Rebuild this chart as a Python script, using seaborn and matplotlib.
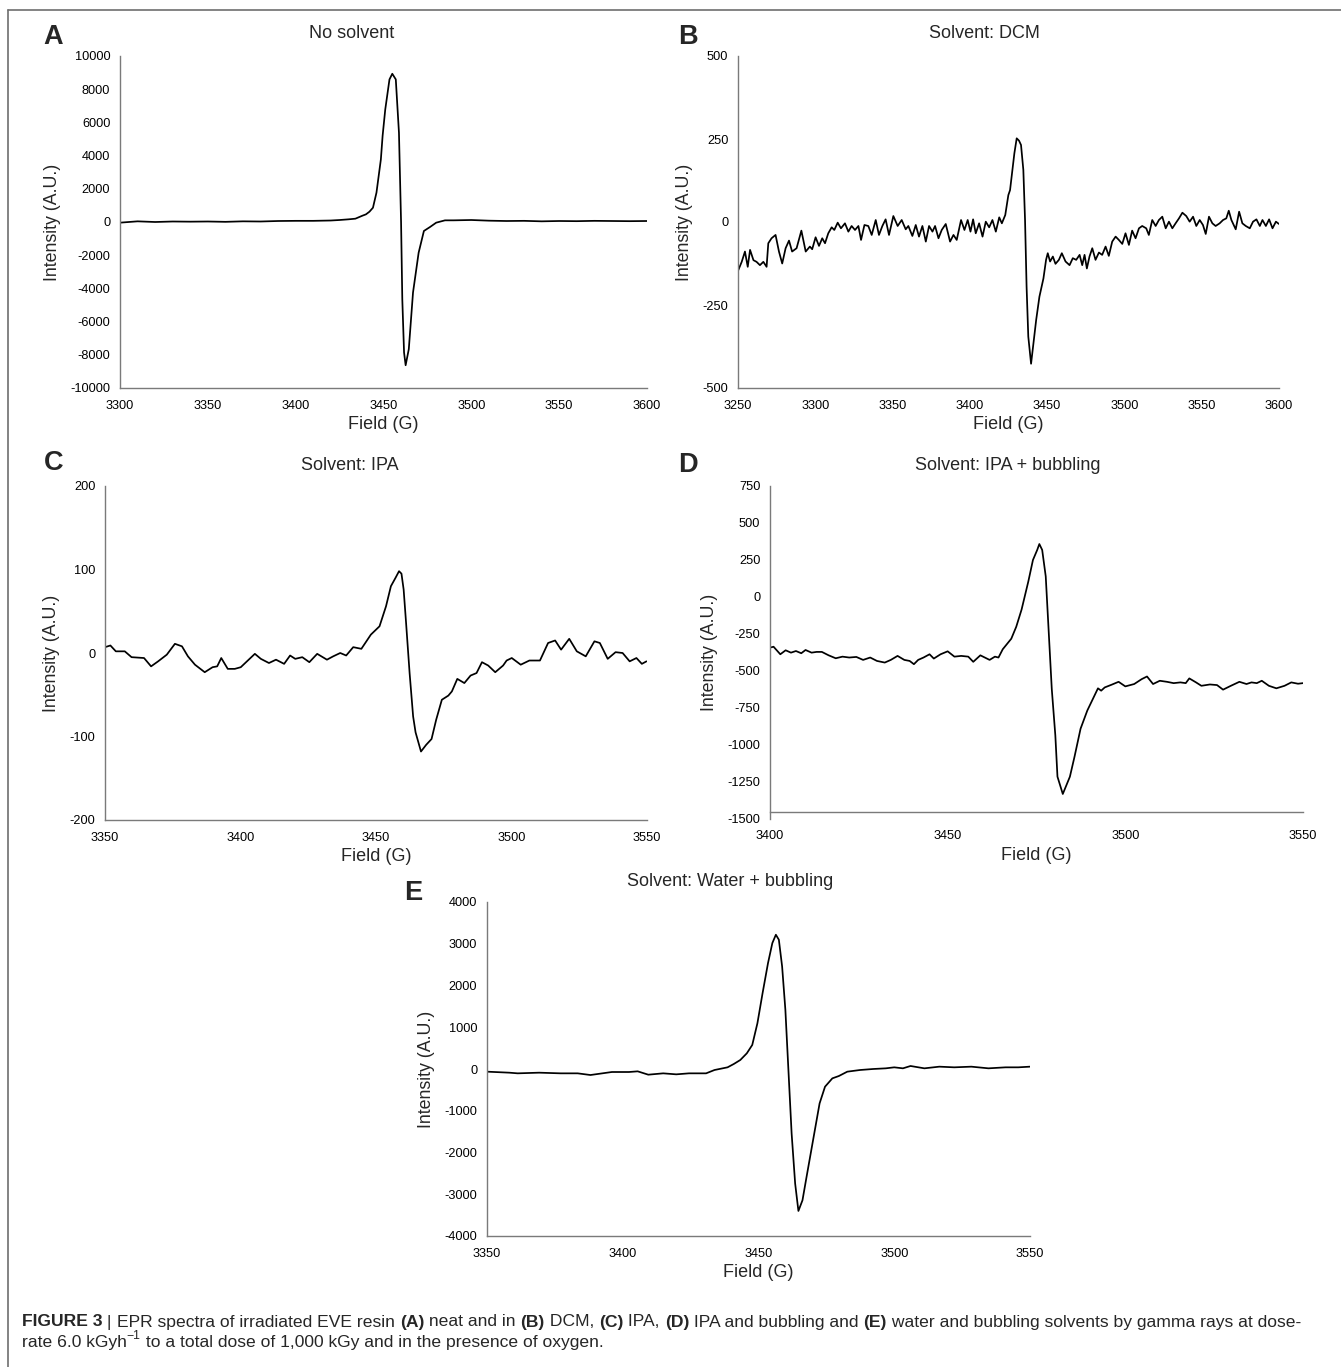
import numpy as np
import pandas as pd
import matplotlib
matplotlib.use("Agg")
import matplotlib.pyplot as plt
from matplotlib.lines import Line2D
import seaborn as sns

# ---- data ----
# A: no solvent
a_field = [3300, 3310, 3320, 3330, 3340, 3350, 3360, 3370, 3380, 3390, 3400, 3410, 3420, 3425,
           3430, 3434, 3438, 3440, 3442, 3444, 3446, 3448.5, 3449.5, 3451, 3453.4, 3455, 3457,
           3458.8, 3460, 3460.7, 3461.7, 3462.6, 3464.4, 3466.8, 3470, 3473, 3476.5, 3480, 3485,
           3490, 3500, 3510, 3520, 3530, 3540, 3550, 3560, 3570, 3580, 3590, 3600]
a_int = [-40, 40, 0, 30, 20, 30, 10, 40, 30, 60, 70, 70, 90, 120,
         160, 200, 380, 460, 620, 860, 1770, 3770, 5200, 6780, 8590, 8930, 8590,
         5380, 0, -4650, -7860, -8630, -7660, -4250, -1850, -540, -300, -40, 100,
         100, 120, 80, 60, 70, 40, 60, 50, 70, 60, 50, 60]

# B: DCM
b_field = [3250.2, 3252.4, 3254.5, 3256.3, 3257.8, 3260, 3262, 3264.2, 3266.4, 3268.5, 3269.6,
           3271.7, 3274.3, 3276.5, 3278.6, 3280.8, 3283, 3285, 3287.9, 3291, 3293.8, 3296.5,
           3298, 3300.2, 3302.4, 3304.5, 3306.3, 3308.4, 3310.6, 3312.3, 3314.5, 3316.6, 3319.2,
           3321.4, 3323.5, 3325.7, 3327.9, 3329.6, 3331.8, 3334.3, 3336.5, 3339.1, 3341.2, 3343.4,
           3345.5, 3347.7, 3350.5, 3353.3, 3355.9, 3358.5, 3360.2, 3362.8, 3365, 3367.1, 3369.3,
           3371.5, 3373.6, 3375.8, 3377.5, 3379.7, 3381.8, 3384.4, 3387.2, 3389.4, 3391.5, 3394.3,
           3396.5, 3398.6, 3400.4, 3402.1, 3403.8, 3406, 3408.2, 3410.3, 3412.5, 3414.6, 3416.8,
           3419, 3420.7, 3422.9, 3424.9, 3426, 3427.5, 3428.8, 3430.3, 3431.8, 3433.1, 3434.6,
           3435.7, 3436.7, 3437.8, 3439.6, 3442.9, 3445, 3447.6, 3449.3, 3450.4, 3451.9, 3453.7,
           3455.4, 3457.6, 3459.5, 3461.9, 3464.5, 3466.6, 3468.8, 3471, 3472.7, 3474.2, 3475.7,
           3477.4, 3479.2, 3481.3, 3483.5, 3485.6, 3487.8, 3489.9, 3492.1, 3494.3, 3496.4, 3498.6,
           3500.7, 3502.9, 3505, 3507.2, 3509.4, 3511.5, 3514.1, 3515.8, 3518, 3520.2, 3522.3,
           3524.5, 3526.7, 3528.8, 3531, 3533.1, 3535.3, 3537.5, 3540, 3542.2, 3544.4, 3546.5,
           3548.7, 3550.8, 3552.6, 3554.7, 3556.9, 3559, 3561.6, 3563.8, 3565.9, 3567.5, 3569.2,
           3572, 3574.2, 3576.3, 3578.5, 3581.1, 3583.2, 3585.4, 3587.6, 3589.3, 3591.5, 3593.6,
           3595.8, 3598, 3600]
b_int = [-145, -120, -89, -135, -84, -115, -120, -130, -120, -135, -64,
         -49, -39, -89, -125, -79, -56, -89, -79, -26, -89, -74,
         -82, -46, -72, -49, -64, -34, -16, -24, -2, -19, -4,
         -29, -12, -24, -12, -54, -9, -12, -39, 6, -39, -12,
         8, -39, 18, -12, 6, -22, -12, -42, -9, -44, -12,
         -59, -12, -29, -12, -49, -24, -6, -59, -39, -54, 6,
         -24, 6, -29, 8, -34, -4, -44, 1, -16, 6, -29,
         14, -4, 21, 81, 96, 157, 207, 252, 245, 232, 157,
         6, -195, -345, -427, -295, -225, -170, -114, -94, -119, -104,
         -126, -114, -94, -119, -130, -109, -114, -99, -130, -99, -140,
         -104, -79, -114, -92, -99, -74, -102, -59, -44, -54, -66,
         -34, -69, -26, -49, -19, -12, -19, -39, 6, -12, 6,
         16, -19, 1, -19, -4, 11, 28, 18, 1, 16, -12,
         6, -9, -36, 16, -4, -12, -4, 6, 11, 34, 6,
         -22, 31, -4, -12, -19, 1, 8, -12, 6, -12, 8,
         -19, 1, -6]

# C: IPA
c_field = [3350, 3352, 3354, 3357.3, 3359.8, 3364.4, 3367, 3369.6, 3372.8, 3375.8, 3378.4, 3380.6,
           3383.2, 3386.8, 3389.7, 3391.4, 3392.9, 3395.3, 3397.9, 3400.1, 3402.7, 3405.3, 3407.5,
           3410.5, 3413.1, 3416.1, 3418.3, 3420.2, 3422.8, 3425.4, 3428.3, 3431.9, 3434.2, 3436.8,
           3439, 3441.6, 3444.6, 3448.1, 3451.3, 3453.7, 3455.5, 3457.2, 3458.5, 3459.4, 3460.2,
           3461.1, 3462.4, 3463.7, 3464.6, 3466.6, 3468.5, 3470.5, 3472.2, 3474.3, 3476.7, 3478,
           3480, 3482.6, 3484.9, 3487.1, 3489.1, 3491.4, 3494, 3496.9, 3498.2, 3500.1, 3503.4,
           3506.6, 3510.5, 3513.5, 3516.1, 3518.3, 3521.3, 3524.1, 3527.4, 3530.6, 3532.6, 3535.5,
           3538.4, 3541, 3543.6, 3546.1, 3548.1, 3549.8]
c_int = [7, 9, 2, 2, -5, -6, -16, -10, -2, 11, 8, -4,
         -14, -23, -17, -16, -6, -19, -19, -17, -9, -1, -7,
         -12, -8, -13, -3, -7, -5, -11, -1, -8, -4, 0,
         -3, 7, 5, 22, 32, 56, 80, 90, 98, 95, 76,
         36, -24, -76, -95, -118, -110, -103, -80, -56, -51, -46,
         -31, -36, -27, -24, -11, -15, -23, -15, -9, -6, -14,
         -9, -9, 12, 15, 4, 17, 2, -4, 14, 12, -7,
         1, 0, -10, -6, -13, -10]

# D: IPA + bubbling
d_field = [3400, 3401, 3402.9, 3404.4, 3405.9, 3407.3, 3408.8, 3410, 3411.7, 3413.1, 3414.6, 3416.5,
           3418.5, 3420.4, 3422.3, 3424.3, 3426.2, 3428.2, 3430.1, 3432.3, 3434, 3435.9, 3437.8,
           3439.3, 3440.5, 3441.7, 3443.2, 3444.9, 3446.1, 3448, 3450, 3451.9, 3453.8, 3455.8,
           3457.2, 3459.2, 3461.8, 3463.3, 3464.3, 3465.5, 3467.9, 3469.3, 3470.8, 3472.7, 3474,
           3475.2, 3475.8, 3476.6, 3477.6, 3478.3, 3479.3, 3480.3, 3480.9, 3482.4, 3484.4, 3485.7,
           3487.4, 3489.3, 3491.3, 3492.3, 3493.2, 3494.2, 3496.1, 3498.1, 3500, 3502.5, 3504.6,
           3506.1, 3507.8, 3509.7, 3511.7, 3513.6, 3515.5, 3517, 3518, 3519.9, 3521.4, 3523.8,
           3525.8, 3527.5, 3529.7, 3532.1, 3534.1, 3535.5, 3537, 3538.4, 3540.4, 3542.5, 3544.8,
           3546.7, 3548.6, 3550]
d_int = [-342, -336, -387, -360, -376, -365, -380, -358, -376, -371, -371, -394,
         -414, -403, -409, -405, -425, -409, -432, -443, -425, -398, -425,
         -432, -454, -425, -409, -387, -416, -387, -367, -403, -398, -403,
         -438, -394, -425, -403, -409, -353, -282, -201, -85, 105, 250,
         318, 358, 318, 139, -174, -622, -935, -1214, -1331, -1214, -1079,
         -890, -767, -667, -617, -633, -611, -593, -573, -604, -588, -555,
         -537, -588, -566, -573, -582, -577, -582, -550, -577, -600, -591,
         -595, -626, -600, -573, -588, -577, -582, -566, -600, -617, -600,
         -577, -586, -582]

# E: water + bubbling
e_field = [3350, 3358.2, 3361.3, 3369.2, 3377.1, 3383.4, 3388.1, 3396, 3402.3, 3405.5, 3409.4,
           3414.9, 3419.7, 3424.4, 3430.7, 3433.8, 3438.6, 3440.9, 3443.3, 3445.7, 3447.7, 3449.6,
           3451.5, 3453.5, 3455.1, 3456.4, 3457.5, 3458.7, 3459.9, 3461, 3462.2, 3463.5, 3464.7,
           3466.2, 3467.7, 3470.1, 3472.5, 3474.5, 3477.2, 3479.6, 3482.7, 3487.4, 3492.2, 3496.9,
           3500, 3503.2, 3506, 3511.1, 3516.6, 3522.1, 3528.4, 3534.7, 3541, 3545.7, 3550]
e_int = [-64, -88, -104, -88, -104, -104, -144, -72, -72, -56, -136,
         -104, -128, -104, -104, -24, 40, 120, 216, 376, 576, 1096,
         1816, 2536, 3016, 3216, 3096, 2456, 1416, 0, -1544, -2744, -3400,
         -3144, -2584, -1704, -824, -424, -224, -168, -64, -24, 0, 16,
         40, 16, 72, 16, 56, 40, 56, 16, 40, 40, 56]

titles = ["No solvent", "Solvent: DCM", "Solvent: IPA", "Solvent: IPA + bubbling",
          "Solvent: Water + bubbling"]
letters = ["A", "B", "C", "D", "E"]

sns.set_style("white")
plt.rcParams['font.family'] = ['Liberation Sans', 'DejaVu Sans']
plt.rcParams['axes.unicode_minus'] = False

W, H = 1341, 1367
fig = plt.figure(figsize=(W / 100, H / 100), dpi=100)
axis_col = "#7a7a7a"


def px_axes(l, t, r, b):
    return fig.add_axes([l / W, 1 - b / H, (r - l) / W, (b - t) / H])


def draw_panel(box, field, inten, xlim, ylim, xstep, ystep, title, title_xy, letter, letter_xy,
               xaxis_at=None):
    ax = px_axes(*box)
    df = pd.DataFrame({"field": field, "intensity": inten})
    sns.lineplot(data=df, x="field", y="intensity", ax=ax, color="black", lw=1.25,
                 estimator=None, sort=False)
    ax.set_xlim(*xlim)
    ax.set_ylim(*ylim)
    ax.set_xticks(np.arange(xlim[0], xlim[1] + 1, xstep))
    ax.set_yticks(np.arange(ylim[0], ylim[1] + 1, ystep))
    for s in ["top", "right"]:
        ax.spines[s].set_visible(False)
    for s in ["left", "bottom"]:
        ax.spines[s].set_color(axis_col)
        ax.spines[s].set_linewidth(1.0)
    xpad = 6.5
    if xaxis_at is not None:
        ax.spines["bottom"].set_position(("data", xaxis_at))
        xpad = 11.5
    ax.tick_params(axis="both", direction="inout", length=4, width=0.8, color=axis_col,
                   labelsize=9.2, labelcolor="black")
    ax.tick_params(axis="x", pad=xpad)
    ax.tick_params(axis="y", pad=5)
    ax.set_xlabel("Field (G)", fontsize=13, labelpad=3)
    ax.set_ylabel("Intensity (A.U.)", fontsize=12.8, labelpad=7)
    fig.text(title_xy[0] / W, 1 - title_xy[1] / H, title, ha="center", va="center", fontsize=13)
    fig.text(letter_xy[0] / W, 1 - letter_xy[1] / H, letter, ha="left", va="center",
             fontsize=19.5, weight="bold")
    return ax


draw_panel((120, 56, 647, 388), a_field, a_int, (3300, 3600), (-10000, 10000), 50, 2000,
           titles[0], (352, 34), letters[0], (43, 37))
draw_panel((738, 56, 1279, 388), b_field, b_int, (3250, 3600), (-500, 500), 50, 250,
           titles[1], (984, 34), letters[1], (678, 37))
draw_panel((105, 486, 647, 820), c_field, c_int, (3350, 3550), (-200, 200), 50, 100,
           titles[2], (350, 465), letters[2], (44, 463))
draw_panel((770, 486, 1303, 819), d_field, d_int, (3400, 3550), (-1500, 750), 50, 250,
           titles[3], (1008, 465), letters[3], (678, 465), xaxis_at=-1450)
draw_panel((487, 902, 1030, 1236), e_field, e_int, (3350, 3550), (-4000, 4000), 50, 1000,
           titles[4], (730, 881), letters[4], (404, 893))

# frame around the figure
fig.add_artist(Line2D([8 / W, 8 / W], [1 - 10 / H, 0], transform=fig.transFigure,
                      color="#6e6e6e", lw=1.2))
fig.add_artist(Line2D([8 / W, 1], [1 - 10 / H, 1 - 10 / H], transform=fig.transFigure,
                      color="#6e6e6e", lw=1.2))

# caption, written piece by piece so bold parts can sit inline
cap_font = ['Liberation Sans', 'DejaVu Sans']
cap_size = 12.6
renderer = fig.canvas.get_renderer()


def write_line(pieces, x0, y0):
    x = x0
    for txt, bold, sup in pieces:
        size = cap_size * 0.7 if sup else cap_size
        yy = y0 - 6 if sup else y0
        t = fig.text(x / W, 1 - yy / H, txt, ha="left", va="center", fontsize=size,
                     weight="bold" if bold else "normal", family=cap_font)
        x += t.get_window_extent(renderer).width
    return x


line1 = [("FIGURE 3", True, False), (" | ", False, False),
         ("EPR spectra of irradiated EVE resin ", False, False), ("(A)", True, False),
         (" neat and in ", False, False), ("(B)", True, False), (" DCM, ", False, False),
         ("(C)", True, False), (" IPA, ", False, False), ("(D)", True, False),
         (" IPA and bubbling and ", False, False), ("(E)", True, False),
         (" water and bubbling solvents by gamma rays at dose-", False, False)]
line2 = [("rate 6.0 kGyh", False, False), ("\u22121", False, True),
         (" to a total dose of 1,000 kGy and in the presence of oxygen.", False, False)]
write_line(line1, 22, 1322)
write_line(line2, 22, 1342)

fig.savefig("out.png", dpi=100)
